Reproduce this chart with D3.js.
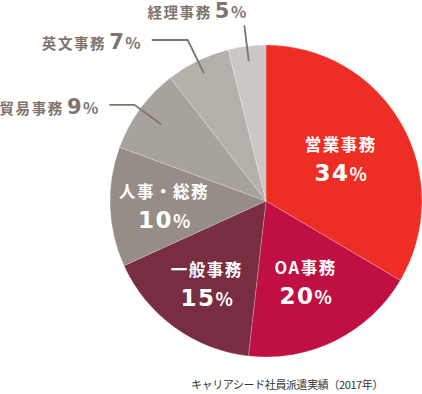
<!DOCTYPE html>
<html>
<head>
<meta charset="utf-8">
<script src="https://cdn.jsdelivr.net/npm/d3@7"></script>
<style>
  html, body { margin: 0; padding: 0; background: #fff; }
  svg { display: block; }
  text { font-family: "Noto Sans CJK JP", "Noto Sans", sans-serif; }
  .num { font-family: "DejaVu Sans", sans-serif; }
</style>
</head>
<body>
<svg id="chart" width="422" height="394"></svg>
<script>
// ---- data ----
const categories = ["営業事務", "OA事務", "一般事務", "人事・総務", "貿易事務", "英文事務", "経理事務"];
const percentLabels = [34, 20, 15, 10, 9, 7, 5];
// slice shares as drawn in the picture
const sliceShares = [33.5, 18.3, 16.4, 12.4, 8.9, 6.6, 3.9];
const sliceColors = ["#ee2e24", "#c00f42", "#782d41", "#968d86", "#a8a29d", "#b6b0ab", "#cbc7c4"];
const caption = "キャリアシード社員派遣実績（2017年）";

// ---- layout ----
const W = 422, H = 394;
const cx = 266, cy = 201, R = 156;
const insideCount = 4;
const insideRadius = [86, 89, 101, 102];
// outside leader layout: [inner radius, elbow radius, horizontal length]
const leaderLayout = { 4: [130, 163, 25], 5: [142, 179, 36], 6: [141, 177, 0] };

const svg = d3.select("#chart");
const g = svg.append("g").attr("transform", `translate(${cx},${cy})`);

const data = categories.map((c, i) => ({ name: c, pct: percentLabels[i], share: sliceShares[i], color: sliceColors[i], i }));

const pie = d3.pie().sort(null).value(d => d.share).startAngle(0).endAngle(2 * Math.PI);
const arcs = pie(data);
const arc = d3.arc().innerRadius(0).outerRadius(R);

g.selectAll("path.slice").data(arcs).join("path")
  .attr("class", "slice")
  .attr("d", arc)
  .attr("fill", d => d.data.color)
  .attr("stroke", "rgba(255,255,255,0.35)")
  .attr("stroke-width", 0.6);

const polar = (r, a) => [r * Math.sin(a), -r * Math.cos(a)];

// inside labels
arcs.filter(d => d.data.i < insideCount).forEach(d => {
  const mid = (d.startAngle + d.endAngle) / 2;
  const [x, y] = polar(insideRadius[d.data.i], mid);
  g.append("text")
    .attr("x", x).attr("y", y - 7)
    .attr("text-anchor", "middle")
    .attr("fill", "#fff")
    .attr("font-size", 16.5)
    .attr("font-weight", 700)
    .attr("letter-spacing", 1.5)
    .text(d.data.name);
  const t = g.append("text")
    .attr("x", x).attr("y", y + 23)
    .attr("text-anchor", "middle")
    .attr("fill", "#fff")
    .attr("font-weight", 700);
  t.append("tspan").attr("class", "num").attr("font-size", 23).attr("letter-spacing", 1.5).text(d.data.pct);
  t.append("tspan").attr("font-size", 18).text("%");
});

// outside labels with leaders
const grayText = "#7f756e";
arcs.filter(d => d.data.i >= insideCount).forEach(d => {
  const mid = (d.startAngle + d.endAngle) / 2;
  const [r0, r1, hl] = leaderLayout[d.data.i];
  const p0 = polar(r0, mid), p1 = polar(r1, mid);
  const p2 = [p1[0] - hl, p1[1]];
  g.append("path")
    .attr("d", d3.line()([p0, p1, p2]))
    .attr("fill", "none")
    .attr("stroke", "#7f756e")
    .attr("stroke-width", 1.8);
  let tx, ty;
  if (hl > 0) { tx = p2[0] - 11; ty = p2[1] + 9; }
  else { tx = p2[0] + 2; ty = p2[1] - 7; }
  const t = g.append("text")
    .attr("x", tx).attr("y", ty)
    .attr("text-anchor", "end")
    .attr("fill", grayText)
    .attr("font-weight", 700);
  t.append("tspan").attr("font-size", 14.5).attr("letter-spacing", 1.6).text(d.data.name);
  t.append("tspan").attr("class", "num").attr("font-size", 21).attr("dx", 3).attr("letter-spacing", 1.5).text(d.data.pct);
  t.append("tspan").attr("font-size", 16).text("%");
});

// caption
svg.append("text")
  .attr("x", 383).attr("y", 389)
  .attr("text-anchor", "end")
  .attr("fill", "#333")
  .attr("font-size", 11)
  .attr("letter-spacing", -0.4)
  .text(caption);
</script>
</body>
</html>
